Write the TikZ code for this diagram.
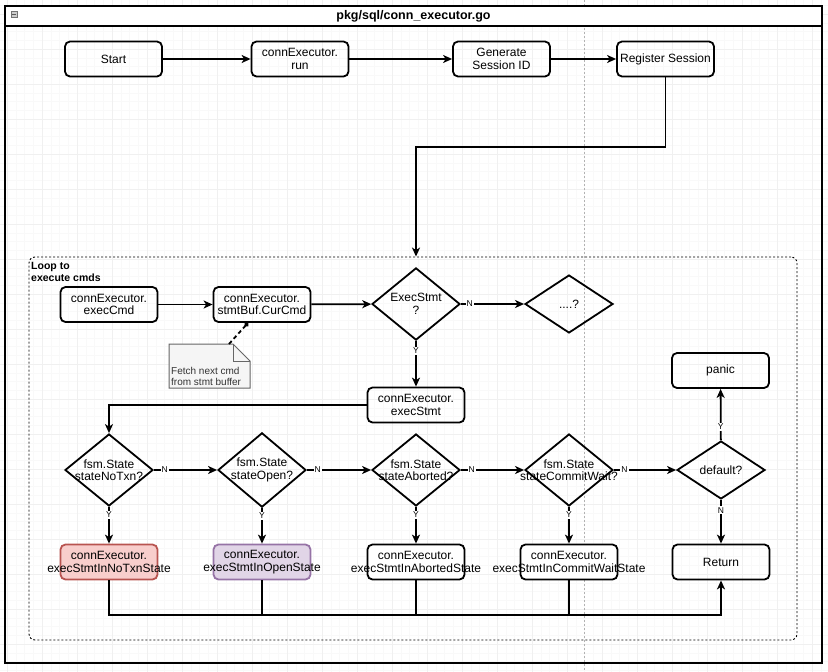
\documentclass[tikz,border=0pt]{standalone}
\usepackage{fontspec}
\setmainfont{Liberation Sans}
\usetikzlibrary{shapes.geometric,arrows.meta}
\definecolor{redfill}{HTML}{F8CECC}
\definecolor{redline}{HTML}{B85450}
\definecolor{purplefill}{HTML}{E1D5E7}
\definecolor{purpleline}{HTML}{9673A6}
\newcommand{\ovl}[1]{\makebox[0pt][c]{#1}}

\begin{document}
\begin{tikzpicture}[x=1pt,y=-1pt,
	box/.style={draw,line width=1.8pt,rounded corners=5pt,minimum width=97pt,minimum height=35pt,inner sep=0pt,align=center,font=\fontsize{12}{12.5}\selectfont},
	dec/.style={draw,diamond,line width=1.8pt,minimum width=88pt,minimum height=58pt,inner sep=0pt,align=center,font=\fontsize{12}{12.5}\selectfont},
	wire/.style={line width=1.8pt},
	arr/.style={line width=1.8pt,-{Stealth[length=9pt,width=8pt,inset=2.5pt]}},
	lbl/.style={fill=white,inner sep=1pt,font=\fontsize{8.5}{9}\selectfont}]
	\useasboundingbox (0,0) rectangle (828,672);
	
	%GRID
	\foreach \i in {0,...,95}
	\draw[black!2.5,line width=0.4pt] ({-1.75+8.75*\i},0)--({-1.75+8.75*\i},672);
	\foreach \i in {0,...,77}
	\draw[black!2.5,line width=0.4pt] (0,{5.25+8.75*\i})--(828,{5.25+8.75*\i});
	\foreach \i in {0,...,23}
	\draw[black!6,line width=0.5pt] ({7+35*\i},0)--({7+35*\i},672);
	\foreach \i in {0,...,19}
	\draw[black!6,line width=0.5pt] (0,{14+35*\i})--(828,{14+35*\i});
	\draw[black!30,line width=0.8pt,dash pattern=on 2pt off 2pt] (584,0)--(584,672);	%page break
	
	%FRAME
	\draw[line width=1.8pt] (5,6) rectangle (822,663);
	\draw[line width=1.8pt,fill=white] (5,6) rectangle (822,26);
	\draw[black!55,fill=black!20,line width=0.5pt] (11,11) rectangle (17,17);
	\draw[black!65,line width=0.8pt] (12.2,14)--(15.8,14);
	\node[font=\bfseries\fontsize{12.5}{14}\selectfont] (title) at (413.5,16.5) {pkg/sql/conn\_executor.go};
	
	%TOP ROW
	\node[box] (start) at (113.5,59) {Start};
	\node[box] (run) at (300,59) {connExecutor.\\run};
	\node[box] (gen) at (501.5,59) {Generate\\Session ID};
	\node[box] (reg) at (665.5,59) {Register Session};
	\draw[arr] (start)--(run);
	\draw[arr] (run)--(gen);
	\draw[arr] (gen)--(reg);
	
	%LOOP
	\node[draw,line width=0.9pt,dash pattern=on 2pt off 2pt,rounded corners=6pt,minimum width=768pt,minimum height=383pt] (loop) at (413,448.5) {};
	\node[anchor=north west,align=left,inner sep=0pt,font=\bfseries\fontsize{10.5}{12.5}\selectfont] (looplbl) at (31,262) {Loop to\\execute cmds};
	\coordinate (bend) at (416,147);
	\draw[arr] (reg.south) |- (bend) -- (bend |- loop.north);
	
	\node[box] (cmd) at (109,304.5) {connExecutor.\\execCmd};
	\node[box] (cur) at (262,304.5) {connExecutor.\\stmtBuf.CurCmd};
	\node[dec] (isexec) at (416,304) {ExecStmt\\?};
	\node[dec] (other) at (569,304) {....?};
	\node[box] (stmt) at (416,405) {connExecutor.\\execStmt};
	\draw[arr] (cmd)--(cur);
	\draw[arr] (cur)--(isexec);
	\draw[arr] (isexec)-- node[lbl,pos=0.14] {N} (other);
	\draw[arr] (isexec)-- node[lbl,pos=0.22] {Y} (stmt);
	
	%NOTE
	\draw[black!60,fill=black!4,line width=1pt] (169,344)--(233,344)--(250,361)--(250,388)--(169,388)--cycle;
	\draw[black!60,line width=1pt] (233,344)--(233,361)--(250,361);
	\node[anchor=south west,align=left,inner xsep=2pt,inner ysep=2.5pt,text=black!80,font=\fontsize{10}{11}\selectfont] (note) at (169,388) {Fetch next cmd\\from stmt buffer};
	\coordinate (notetop) at (229,344);
	\draw[line width=1.8pt,dash pattern=on 4pt off 3pt,-{Circle[length=4.5pt]}] (notetop)--([xshift=-14pt]cur.south);
	
	%STATES
	\node[dec] (qdef) at (721,470) {default?};
	\node[box] (panic) at (720.5,370.5) {panic};
	\node[box] (ret) at (721,562) {Return};
	\foreach \nm/\xx/\st/\fl/\dr in {notxn/109/NoTxn/redfill/redline, open/262/Open/purplefill/purpleline, aborted/416/Aborted/white/black, commit/569/CommitWait/white/black}{
	\node[dec] (q\nm) at (\xx,470) {fsm.State\\\ovl{state\st?}};
	\node[box,fill=\fl,draw=\dr] (x\nm) at (\xx,562) {connExecutor.\\\ovl{execStmtIn\st State}};
	\draw[arr] (q\nm)-- node[lbl,pos=0.22] {Y} (x\nm);
	}
	\foreach \a/\b in {notxn/open,open/aborted,aborted/commit,commit/def}
	\draw[arr] (q\a)-- node[lbl,pos=0.17] {N} (q\b);
	\draw[arr] (stmt.west) -| (qnotxn.north);
	\draw[arr] (qdef)-- node[lbl,pos=0.26] {Y} (panic);
	\draw[arr] (qdef)-- node[lbl,pos=0.24] {N} (ret);
	
	%RETURN BUS
	\coordinate (bus) at (721,615);
	\draw[arr] (xnotxn.south) |- (bus) -- (ret.south);
	\foreach \nm in {open,aborted,commit}
	\draw[wire] (x\nm.south)--(x\nm.south |- bus);
\end{tikzpicture}
\end{document}
